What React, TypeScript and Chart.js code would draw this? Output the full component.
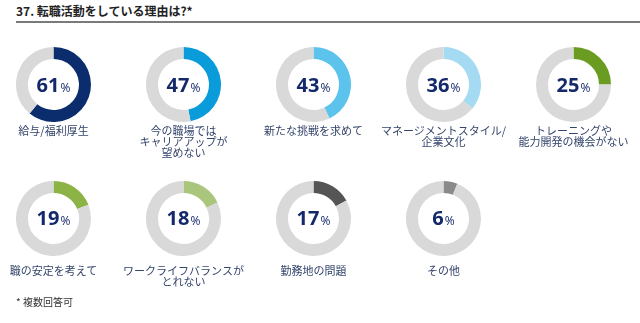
import React, { useEffect, useRef } from "react";
import { Chart, registerables } from "chart.js";

Chart.register(...registerables);

const titleText = "37. 転職活動をしている理由は?*";
const footnoteText = "* 複数回答可";

const categoryLabels: string[][] = [
  ["給与/福利厚生"],
  ["今の職場では", "キャリアアップが", "望めない"],
  ["新たな挑戦を求めて"],
  ["マネージメントスタイル/", "企業文化"],
  ["トレーニングや", "能力開発の機会がない"],
  ["職の安定を考えて"],
  ["ワークライフバランスが", "とれない"],
  ["勤務地の問題"],
  ["その他"],
];

const percentValues: number[] = [61, 47, 43, 36, 25, 19, 18, 17, 6];

const sliceColors: string[] = [
  "#0b2d6d",
  "#0a9bdb",
  "#5cc3ec",
  "#a4daf2",
  "#6a9c22",
  "#8cb346",
  "#aac67c",
  "#555555",
  "#8a8a8a",
];

const trackColor = "#d9d9da";
const navy = "#14296a";
const labelColor = "#34456b";

const COL_X0 = 53.5;
const COL_STEP = 130;
const ROW_Y = [84.5, 218];
const LABEL_TOP = [124.5, 264.5];
const SIZE = 75;
const PER_ROW = 5;

function Donut({ value, color }: { value: number; color: string }) {
  const ref = useRef<HTMLCanvasElement | null>(null);
  useEffect(() => {
    if (!ref.current) return;
    const chart = new Chart(ref.current, {
      type: "doughnut",
      data: {
        labels: ["value", "rest"],
        datasets: [
          {
            data: [value, 100 - value],
            backgroundColor: [color, trackColor],
            borderWidth: 0,
          },
        ],
      },
      options: {
        responsive: false,
        animation: false,
        devicePixelRatio: 1,
        cutout: "68%",
        events: [],
        layout: { padding: 0 },
        plugins: { legend: { display: false }, tooltip: { enabled: false } },
      },
    });
    return () => chart.destroy();
  }, [value, color]);
  return <canvas ref={ref} width={SIZE} height={SIZE} style={{ width: SIZE, height: SIZE, display: "block" }} />;
}

export default function App() {
  return (
    <div
      style={{
        position: "absolute",
        left: 0,
        top: 0,
        width: 640,
        height: 323,
        background: "#fff",
        overflow: "hidden",
        fontFamily: "'Noto Sans CJK JP', 'Noto Sans', sans-serif",
      }}
    >
      <div
        style={{
          position: "absolute",
          left: 16,
          top: 3,
          fontSize: 12,
          fontWeight: 700,
          color: "#222",
          lineHeight: "16px",
          whiteSpace: "nowrap",
        }}
      >
        {titleText}
      </div>
      <div style={{ position: "absolute", left: 16, top: 21, width: 624, height: 2, background: "#7a7a7a" }} />
      {percentValues.map((v, i) => {
        const row = Math.floor(i / PER_ROW);
        const col = i % PER_ROW;
        const cx = COL_X0 + col * COL_STEP;
        const cy = ROW_Y[row];
        return (
          <React.Fragment key={i}>
            <div style={{ position: "absolute", left: Math.round(cx - SIZE / 2), top: Math.round(cy - SIZE / 2) }}>
              <Donut value={v} color={sliceColors[i]} />
            </div>
            <div
              style={{
                position: "absolute",
                left: cx - 40,
                top: cy - 15,
                width: 80,
                height: 30,
                display: "flex",
                alignItems: "baseline",
                justifyContent: "center",
                color: navy,
                lineHeight: "30px",
                fontFamily: "'Open Sans', 'Noto Sans', sans-serif",
              }}
            >
              <span style={{ fontSize: 20, fontWeight: 700 }}>{v}</span>
              <span style={{ fontSize: 12, fontWeight: 400, marginLeft: 1 }}>%</span>
            </div>
            <div
              style={{
                position: "absolute",
                left: cx - 65,
                top: LABEL_TOP[row],
                width: 130,
                textAlign: "center",
                fontSize: 11,
                lineHeight: "11px",
                color: labelColor,
              }}
            >
              {categoryLabels[i].map((l, j) => (
                <div key={j} style={{ whiteSpace: "nowrap" }}>{l}</div>
              ))}
            </div>
          </React.Fragment>
        );
      })}
      <div
        style={{
          position: "absolute",
          left: 16,
          top: 296,
          fontSize: 10,
          lineHeight: "12px",
          color: "#333",
        }}
      >
        {footnoteText}
      </div>
    </div>
  );
}
